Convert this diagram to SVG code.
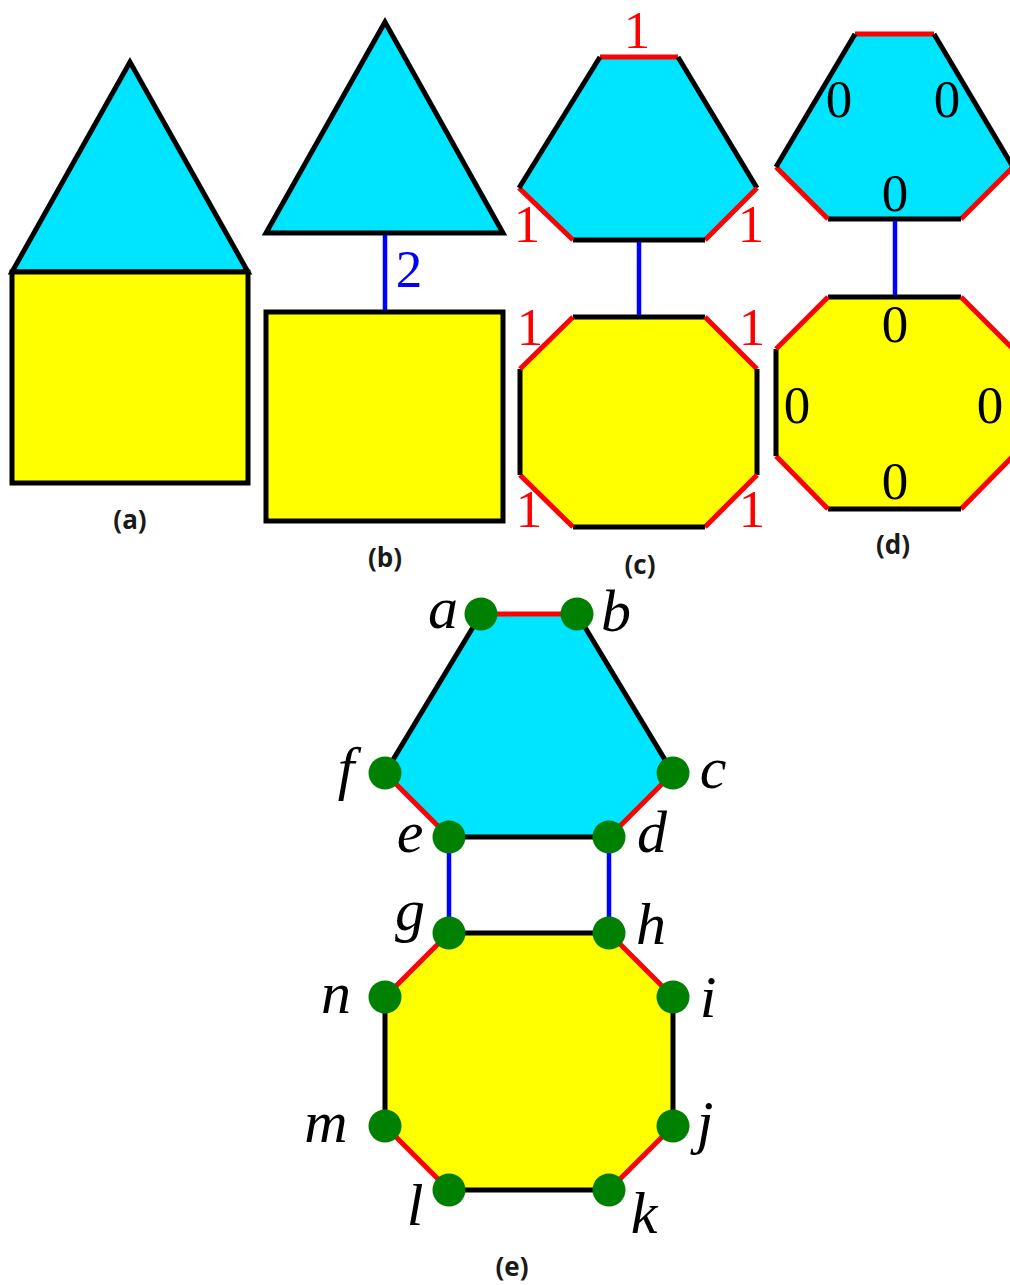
<svg xmlns="http://www.w3.org/2000/svg" width="1010" height="1285" viewBox="0 0 1010 1285">
<style>
.cy{fill:#00E5FF;stroke:none}
.ye{fill:#FFFF00;stroke:none}
.bk{stroke:#000;stroke-width:5;fill:none;stroke-linejoin:miter}
.e{stroke-width:5;fill:none;stroke-linecap:butt}
.k{stroke:#000}
.r{stroke:#FF0000}
.bl{stroke:#0000FF;stroke-width:4.5;fill:none}
.nd{fill:#008000}
.cap{font-family:"Open Sans","DejaVu Sans",sans-serif;font-weight:bold;font-size:26px;text-anchor:middle;fill:#1a1a1a}
.num{font-family:"Liberation Serif","DejaVu Serif",serif;font-size:53px;text-anchor:middle}
.var{font-family:"Liberation Serif","DejaVu Serif",serif;font-style:italic;font-size:60px;text-anchor:middle;fill:#000}
</style>
<rect width="1010" height="1285" fill="#fff"/>

<!-- (a) -->
<g id="panel-a">
  <g id="a-triangle"><polygon class="cy" points="130,62 12,272 248,272"/><polygon class="bk" points="130,62 12,272 248,272"/></g>
  <g id="a-square"><rect class="ye" x="12" y="272" width="236" height="211"/><rect class="bk" x="12" y="272" width="236" height="211"/></g>
  <text class="cap" x="130" y="529">(a)</text>
</g>

<!-- (b) -->
<g id="panel-b">
  <g id="b-triangle"><polygon class="cy" points="385,22 266,233 503,233"/><polygon class="bk" points="385,22 266,233 503,233"/></g>
  <g id="b-square"><rect class="ye" x="266" y="312" width="237" height="209"/><rect class="bk" x="266" y="312" width="237" height="209"/></g>
  <g id="b-connectors"><line class="bl" x1="385" y1="235" x2="385" y2="310"/></g>
  <text class="num" x="409" y="287" fill="#0000FF">2</text>
  <text class="cap" x="385" y="567">(b)</text>
</g>

<!-- (c) -->
<g id="panel-c">
  <g id="c-hexagon">
    <polygon class="cy" points="600,57 678,57 757,188 705,240 573,240 519,188"/>
    <g class="e">
      <line class="r" x1="600" y1="57" x2="678" y2="57"/>
      <line class="k" x1="678" y1="57" x2="757" y2="188"/>
      <line class="r" x1="757" y1="188" x2="705" y2="240"/>
      <line class="k" x1="705" y1="240" x2="573" y2="240"/>
      <line class="r" x1="573" y1="240" x2="519" y2="188"/>
      <line class="k" x1="519" y1="188" x2="600" y2="57"/>
    </g>
  </g>
  <g id="c-octagon">
    <polygon class="ye" points="573,317 705,317 757,369 757,475 705,527 573,527 520,475 520,369"/>
    <g class="e">
      <line class="k" x1="573" y1="317" x2="705" y2="317"/>
      <line class="r" x1="705" y1="317" x2="757" y2="369"/>
      <line class="k" x1="757" y1="369" x2="757" y2="475"/>
      <line class="r" x1="757" y1="475" x2="705" y2="527"/>
      <line class="k" x1="705" y1="527" x2="573" y2="527"/>
      <line class="r" x1="573" y1="527" x2="520" y2="475"/>
      <line class="k" x1="520" y1="475" x2="520" y2="369"/>
      <line class="r" x1="520" y1="369" x2="573" y2="317"/>
    </g>
  </g>
  <g id="c-connectors"><line class="bl" x1="639" y1="242" x2="639" y2="315"/></g>
  <g fill="#FF0000">
    <text class="num" x="637" y="48">1</text>
    <text class="num" x="527" y="242">1</text>
    <text class="num" x="751" y="242">1</text>
    <text class="num" x="530" y="345">1</text>
    <text class="num" x="752" y="345">1</text>
    <text class="num" x="529" y="527">1</text>
    <text class="num" x="752" y="527">1</text>
  </g>
  <text class="cap" x="640" y="574">(c)</text>
</g>

<!-- (d) -->
<g id="panel-d">
  <g id="d-hexagon">
    <polygon class="cy" points="855,34 934,34 1013,167 961,219 828,219 776,167"/>
    <g class="e">
      <line class="r" x1="855" y1="34" x2="934" y2="34"/>
      <line class="k" x1="934" y1="34" x2="1013" y2="167"/>
      <line class="r" x1="1013" y1="167" x2="961" y2="219"/>
      <line class="k" x1="961" y1="219" x2="828" y2="219"/>
      <line class="r" x1="828" y1="219" x2="776" y2="167"/>
      <line class="k" x1="776" y1="167" x2="855" y2="34"/>
    </g>
  </g>
  <g id="d-octagon">
    <polygon class="ye" points="828,297 961,297 1013,349 1013,456 961,509 828,509 776,456 776,349"/>
    <g class="e">
      <line class="k" x1="828" y1="297" x2="961" y2="297"/>
      <line class="r" x1="961" y1="297" x2="1013" y2="349"/>
      <line class="k" x1="1013" y1="349" x2="1013" y2="456"/>
      <line class="r" x1="1013" y1="456" x2="961" y2="509"/>
      <line class="k" x1="961" y1="509" x2="828" y2="509"/>
      <line class="r" x1="828" y1="509" x2="776" y2="456"/>
      <line class="k" x1="776" y1="456" x2="776" y2="349"/>
      <line class="r" x1="776" y1="349" x2="828" y2="297"/>
    </g>
  </g>
  <g id="d-connectors"><line class="bl" x1="895" y1="221" x2="895" y2="295"/></g>
  <g fill="#000">
    <text class="num" x="839" y="117">0</text>
    <text class="num" x="947" y="117">0</text>
    <text class="num" x="895" y="211">0</text>
    <text class="num" x="895" y="342">0</text>
    <text class="num" x="797" y="423">0</text>
    <text class="num" x="990" y="423">0</text>
    <text class="num" x="895" y="499">0</text>
  </g>
  <text class="cap" x="893" y="554">(d)</text>
</g>

<!-- (e) -->
<g id="panel-e">
  <g id="e-hexagon">
    <polygon class="cy" points="481,614 577,614 673,773 609,837 449,837 385,773"/>
  </g>
  <g id="e-octagon">
    <polygon class="ye" points="449,933 609,933 673,997 673,1126 609,1190 449,1190 385,1126 385,997"/>
  </g>
  <g id="e-connectors" class="e">
    <line class="r" x1="481" y1="614" x2="577" y2="614"/>
    <line class="k" x1="577" y1="614" x2="673" y2="773"/>
    <line class="r" x1="673" y1="773" x2="609" y2="837"/>
    <line class="k" x1="609" y1="837" x2="449" y2="837"/>
    <line class="r" x1="449" y1="837" x2="385" y2="773"/>
    <line class="k" x1="385" y1="773" x2="481" y2="614"/>
    <line class="k" x1="449" y1="933" x2="609" y2="933"/>
    <line class="r" x1="609" y1="933" x2="673" y2="997"/>
    <line class="k" x1="673" y1="997" x2="673" y2="1126"/>
    <line class="r" x1="673" y1="1126" x2="609" y2="1190"/>
    <line class="k" x1="609" y1="1190" x2="449" y2="1190"/>
    <line class="r" x1="449" y1="1190" x2="385" y2="1126"/>
    <line class="k" x1="385" y1="1126" x2="385" y2="997"/>
    <line class="r" x1="385" y1="997" x2="449" y2="933"/>
    <line class="bl" x1="449" y1="837" x2="449" y2="933"/>
    <line class="bl" x1="609" y1="837" x2="609" y2="933"/>
  </g>
  <g id="node-a"><circle class="nd" cx="481" cy="614" r="16.5"/><text class="var" x="443" y="628">a</text></g>
  <g id="node-b"><circle class="nd" cx="577" cy="614" r="16.5"/><text class="var" x="616" y="631">b</text></g>
  <g id="node-c"><circle class="nd" cx="673" cy="773" r="16.5"/><text class="var" x="713" y="788">c</text></g>
  <g id="node-d"><circle class="nd" cx="609" cy="837" r="16.5"/><text class="var" x="652" y="852">d</text></g>
  <g id="node-e"><circle class="nd" cx="449" cy="837" r="16.5"/><text class="var" x="410" y="852">e</text></g>
  <g id="node-f"><circle class="nd" cx="385" cy="773" r="16.5"/><text class="var" x="346" y="788">f</text></g>
  <g id="node-g"><circle class="nd" cx="449" cy="933" r="16.5"/><text class="var" x="410" y="930">g</text></g>
  <g id="node-h"><circle class="nd" cx="609" cy="933" r="16.5"/><text class="var" x="651" y="944">h</text></g>
  <g id="node-i"><circle class="nd" cx="673" cy="997" r="16.5"/><text class="var" x="708" y="1017">i</text></g>
  <g id="node-j"><circle class="nd" cx="673" cy="1126" r="16.5"/><text class="var" x="705" y="1142">j</text></g>
  <g id="node-k"><circle class="nd" cx="609" cy="1190" r="16.5"/><text class="var" x="644" y="1233">k</text></g>
  <g id="node-l"><circle class="nd" cx="449" cy="1190" r="16.5"/><text class="var" x="415" y="1225">l</text></g>
  <g id="node-m"><circle class="nd" cx="385" cy="1126" r="16.5"/><text class="var" x="326" y="1142">m</text></g>
  <g id="node-n"><circle class="nd" cx="385" cy="997" r="16.5"/><text class="var" x="336" y="1013">n</text></g>
  <text class="cap" x="512" y="1276">(e)</text>
</g>
</svg>
